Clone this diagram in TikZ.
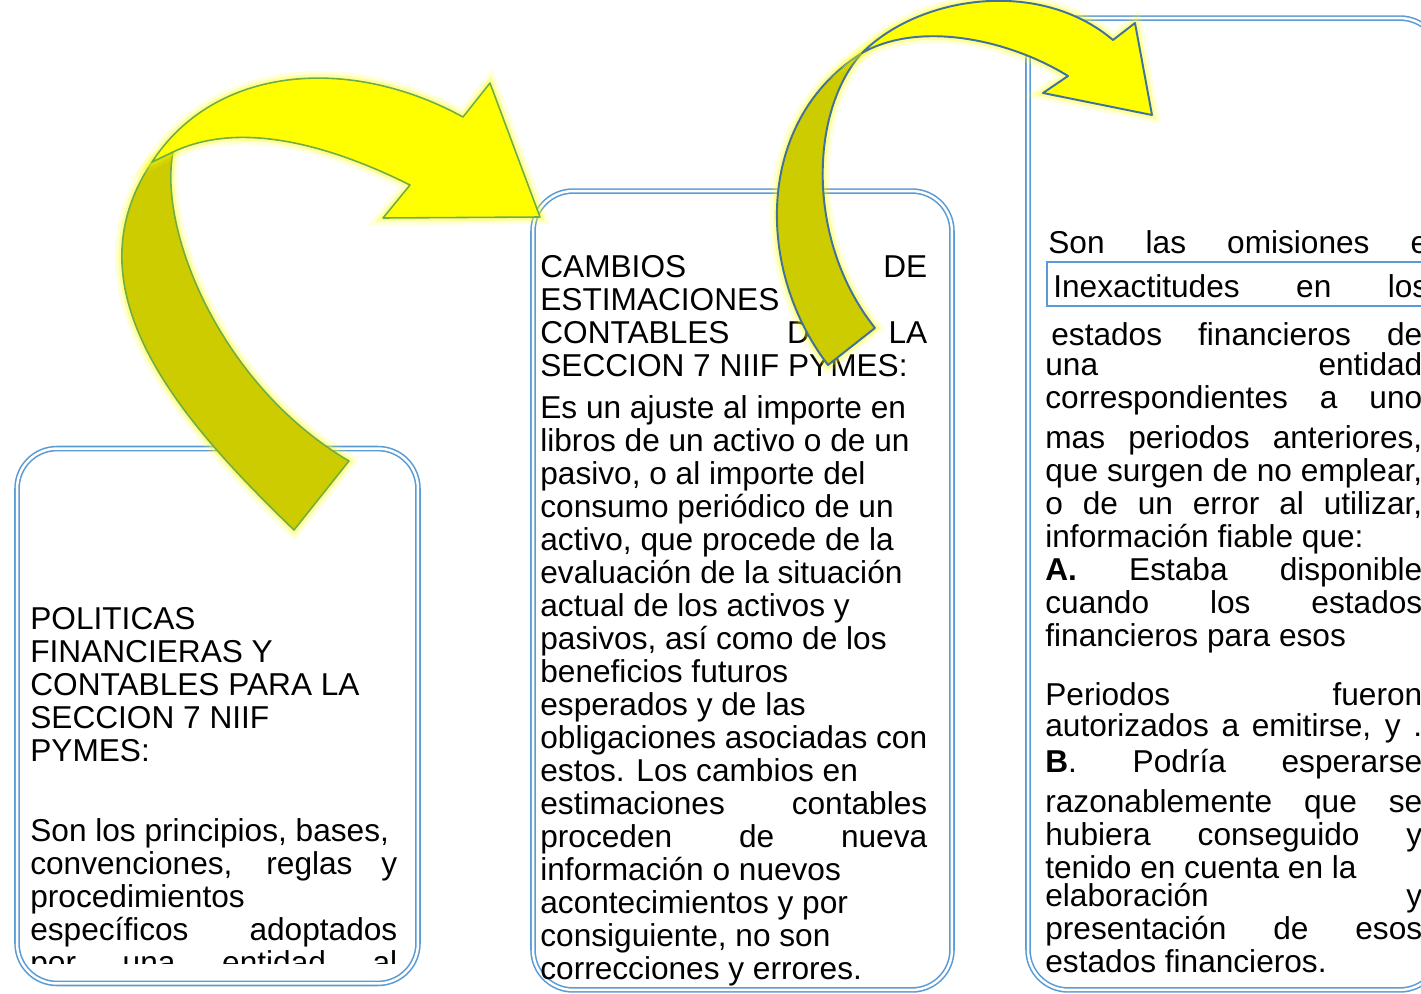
\documentclass[tikz,border=0pt]{standalone}
\usepackage{fontspec}
\setmainfont{Liberation Sans}
\usetikzlibrary{arrows}
\definecolor{bxblue}{HTML}{5B9BD5}
\definecolor{grn}{HTML}{70AD47}
\definecolor{dblue}{HTML}{41719C}
\definecolor{olv}{HTML}{CCCC00}
\definecolor{ylw}{HTML}{FFFF00}
\newcommand{\jl}[1]{{\spaceskip=0pt\xspaceskip=0pt\makebox[\hsize][s]{#1}}}

\begin{document}
\begin{tikzpicture}[x=0.02cm, y=-0.02cm,
                    bxs/.style={draw=bxblue, double=white, line width=0.9pt,
                                double distance=1.4pt, rounded corners=0.8cm},
                    txs/.style={anchor=base west, inner sep=0pt, align=left,
                                font=\fontsize{18}{18.8}\selectfont,
                                execute at begin node={\spaceskip=0pt\xspaceskip=0pt}},
                    glow/.style={preaction={draw=ylw, opacity=0.15, line width=8pt},
                                 preaction={draw=ylw, opacity=0.3, line width=4pt}},
                    arw1/.style={glow, draw=grn, line width=0.9pt, line join=round},
                    arw2/.style={glow, draw=dblue, line width=1.1pt, line join=round}
                    ]
  \path[use as bounding box, clip] (0,0) rectangle (1421,994);

  % the three boxes
  \node[bxs, minimum width=8.02cm, minimum height=10.7cm]  (pol) at (217.5,716)  {};
  \node[bxs, minimum width=8.38cm, minimum height=15.98cm] (cam) at (742.5,590.5) {};
  \node[bxs, minimum width=8.24cm, minimum height=19.44cm] (err) at (1234,504)  {};

  % left text, cut at the bottom
  \begin{scope}
    \clip (0,0) rectangle (1421,963);
    \node[txs, text width=7.34cm] (poltx) at (30,629)
      {POLITICAS\\ FINANCIERAS Y\\ CONTABLES PARA LA\\ SECCION 7 NIIF\\ PYMES:\\[0.94cm]
       Son los principios, bases,\\ \jl{convenciones, reglas y}\\ procedimientos\\
       \jl{específicos adoptados}\\ \jl{por una entidad al}};
  \end{scope}

  % middle text
  \node[txs, text width=7.74cm] (camtx) at (540,277)
    {\jl{CAMBIOS DE}\\ ESTIMACIONES\\ \jl{CONTABLES DE LA}\\ SECCION 7 NIIF PYMES:\\[0.18cm]
     Es un ajuste al importe en\\ libros de un activo o de un\\ pasivo, o al importe del\\
     consumo periódico de un\\ activo, que procede de la\\ evaluación de la situación\\
     actual de los activos y\\ pasivos, así como de  los\\ beneficios futuros\\
     esperados y de las\\ \jl{obligaciones asociadas con}\\ estos. Los cambios  en\\
     \jl{estimaciones contables}\\ \jl{proceden de nueva}\\ información o nuevos\\
     acontecimientos y por\\ consiguiente, no son\\ correcciones y errores.};

  % right text
  \node[txs, text width=7.6cm] (errtop) at (1048,253) {\jl{Son las omisiones e}};
  \draw[bxblue, line width=1.1pt] (1047,262) rectangle (1450,306);
  \node[txs, text width=7.5cm] (errbox) at (1053,297) {\jl{Inexactitudes en los}};
  \node[txs, text width=7.54cm] (errtx) at (1045,345)
    {\jl{\hspace{0.12cm}estados financieros de}\\[-0.06cm] \jl{una entidad}\\
     \jl{correspondientes a uno}\\[0.14cm] \jl{mas periodos anteriores,}\\
     \jl{que surgen de no emplear,}\\ \jl{o de un error al utilizar,}\\
     información fiable  que:\\ \jl{\textbf{A.} Estaba disponible}\\
     \jl{cuando los estados}\\ financieros para  esos\\[0.52cm]
     \jl{Periodos fueron}\\[-0.04cm] \jl{autorizados a emitirse, y  .}\\[0.06cm]
     \jl{\textbf{B}. Podría esperarse}\\[0.14cm] \jl{razonablemente que se}\\
     \jl{hubiera conseguido y}\\ tenido en cuenta en  la\\[-0.1cm]
     \jl{elaboración y}\\ \jl{presentación de esos}\\ estados financieros.};

  % first curved arrow
  \path[arw1, fill=olv] (294,530) .. controls (180,420) and (66,290) .. (152,162)
    -- (173,152) .. controls (158,230) and (220,385) .. (349,461) -- cycle;
  \path[arw1, fill=ylw] (152,162) .. controls (215,65) and (350,55) .. (463,117)
    -- (490,83) -- (540,217) -- (383,218) -- (410,185)
    .. controls (330,145) and (240,120) .. (173,152) -- cycle;

  % second curved arrow
  \path[arw2, fill=olv] (828,365) .. controls (755,270) and (755,120) .. (862,53)
    .. controls (810,110) and (805,240) .. (875,328) -- cycle;
  \path[arw2, fill=ylw] (862,53) .. controls (920,-5) and (1040,-22) .. (1113,40)
    -- (1135,23) -- (1152,115) -- (1043,93) -- (1068,76)
    .. controls (1010,40) and (920,20) .. (862,53) -- cycle;
\end{tikzpicture}
\end{document}
